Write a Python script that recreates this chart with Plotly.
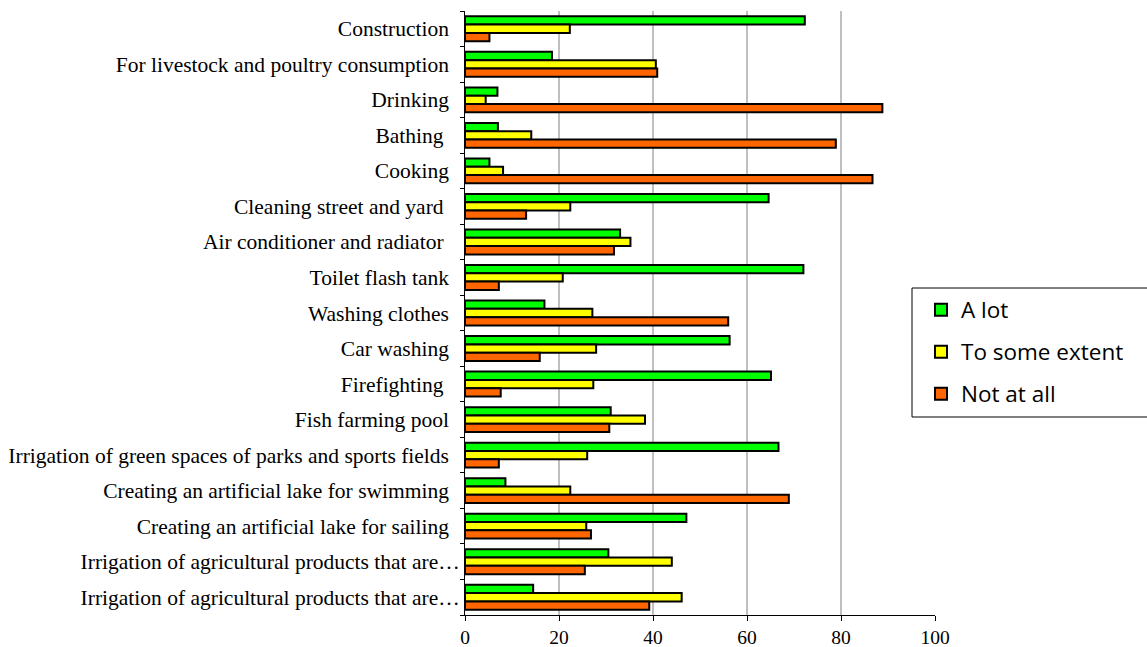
import plotly.graph_objects as go

# Water-use categories, listed top to bottom
categories = [
    "Construction",
    "For livestock and poultry consumption",
    "Drinking",
    "Bathing ",
    "Cooking",
    "Cleaning street and yard ",
    "Air conditioner and radiator ",
    "Toilet flash tank",
    "Washing clothes",
    "Car washing",
    "Firefighting ",
    "Fish farming pool",
    "Irrigation of green spaces of parks and sports fields",
    "Creating an artificial lake for swimming",
    "Creating an artificial lake for sailing",
    "Irrigation of agricultural products that are\u2026",
    "Irrigation of agricultural products that are\u2026 ",
]

a_lot = [72.3, 18.5, 6.9, 7.0, 5.2, 64.6, 33.0, 72.0, 16.9, 56.3, 65.1, 31.0, 66.7, 8.6, 47.1, 30.5, 14.5]
some_extent = [22.3, 40.6, 4.4, 14.1, 8.1, 22.4, 35.2, 20.8, 27.1, 27.9, 27.3, 38.3, 26.0, 22.4, 25.8, 44.0, 46.1]
not_at_all = [5.2, 40.9, 88.8, 78.9, 86.7, 13.0, 31.7, 7.2, 56.0, 15.9, 7.6, 30.7, 7.2, 68.9, 26.8, 25.5, 39.2]

series_names = ["A lot", "To some extent", "Not at all"]
series_colors = ["#00FF00", "#FFFF00", "#FF6600"]
x_ticks = [0, 20, 40, 60, 80, 100]
grid_values = [20, 40, 60, 80]

# Tick label text: full labels sit a little left of the truncated ones
def tick_text(label):
    if label.rstrip().endswith("\u2026"):
        return label.rstrip()
    return label.replace(" ", "\u00a0") + "\u00a0\u00a0"

tick_labels = [tick_text(c) for c in categories]

W, H = 1147, 647
L, R, T, B = 465, 212, 11, 32
plot_w = W - L - R
plot_h = H - T - B

def px_x(p):
    return (p - L) / plot_w

def px_y(p):
    return (H - B - p) / plot_h

fig = go.Figure()
legend_ids = ["legend", "legend2", "legend3"]
for name, vals, color, lg in zip(series_names, [a_lot, some_extent, not_at_all], series_colors, legend_ids):
    fig.add_trace(go.Bar(
        y=categories,
        x=vals,
        name=name,
        orientation="h",
        marker=dict(color=color, line=dict(color="black", width=2)),
        legend=lg,
    ))

for g in grid_values:
    fig.add_shape(type="line", xref="x", yref="paper", x0=g, x1=g, y0=0, y1=1,
                  line=dict(color="#808080", width=1), layer="below")

# Legend frame
fig.add_shape(type="rect", xref="paper", yref="paper",
              x0=px_x(912), x1=px_x(1152), y0=px_y(417), y1=px_y(288),
              line=dict(color="black", width=1), fillcolor="white", layer="below")

legend_font = dict(family="Open Sans", size=22.5, color="black")
legend_common = dict(xanchor="left", yanchor="middle", bgcolor="rgba(0,0,0,0)",
                     borderwidth=0, font=legend_font)

fig.update_layout(
    width=W, height=H,
    margin=dict(l=L, r=R, t=T, b=B, pad=0, autoexpand=False),
    plot_bgcolor="white", paper_bgcolor="white",
    barmode="group", bargap=0.3, bargroupgap=0,
    showlegend=True,
    legend=dict(x=px_x(921), y=px_y(310), **legend_common),
    legend2=dict(x=px_x(921), y=px_y(352), **legend_common),
    legend3=dict(x=px_x(921), y=px_y(394), **legend_common),
    xaxis=dict(
        range=[0, 100], tickvals=x_ticks, showgrid=False, zeroline=False,
        showline=True, linecolor="black", linewidth=1, automargin=False,
        ticks="outside", ticklen=5, tickcolor="black", ticklabelstandoff=0,
        tickfont=dict(family="Liberation Serif", size=19.5, color="black"),
    ),
    yaxis=dict(
        type="category", categoryorder="array", categoryarray=categories,
        autorange="reversed", tickvals=categories, ticktext=tick_labels,
        tickson="boundaries", ticks="outside", ticklen=4, tickcolor="black",
        showline=True, linecolor="black", linewidth=1, showgrid=False,
        automargin=False,
        tickfont=dict(family="Liberation Serif", size=21.5, color="black"),
    ),
)

fig.write_html("out.html")
